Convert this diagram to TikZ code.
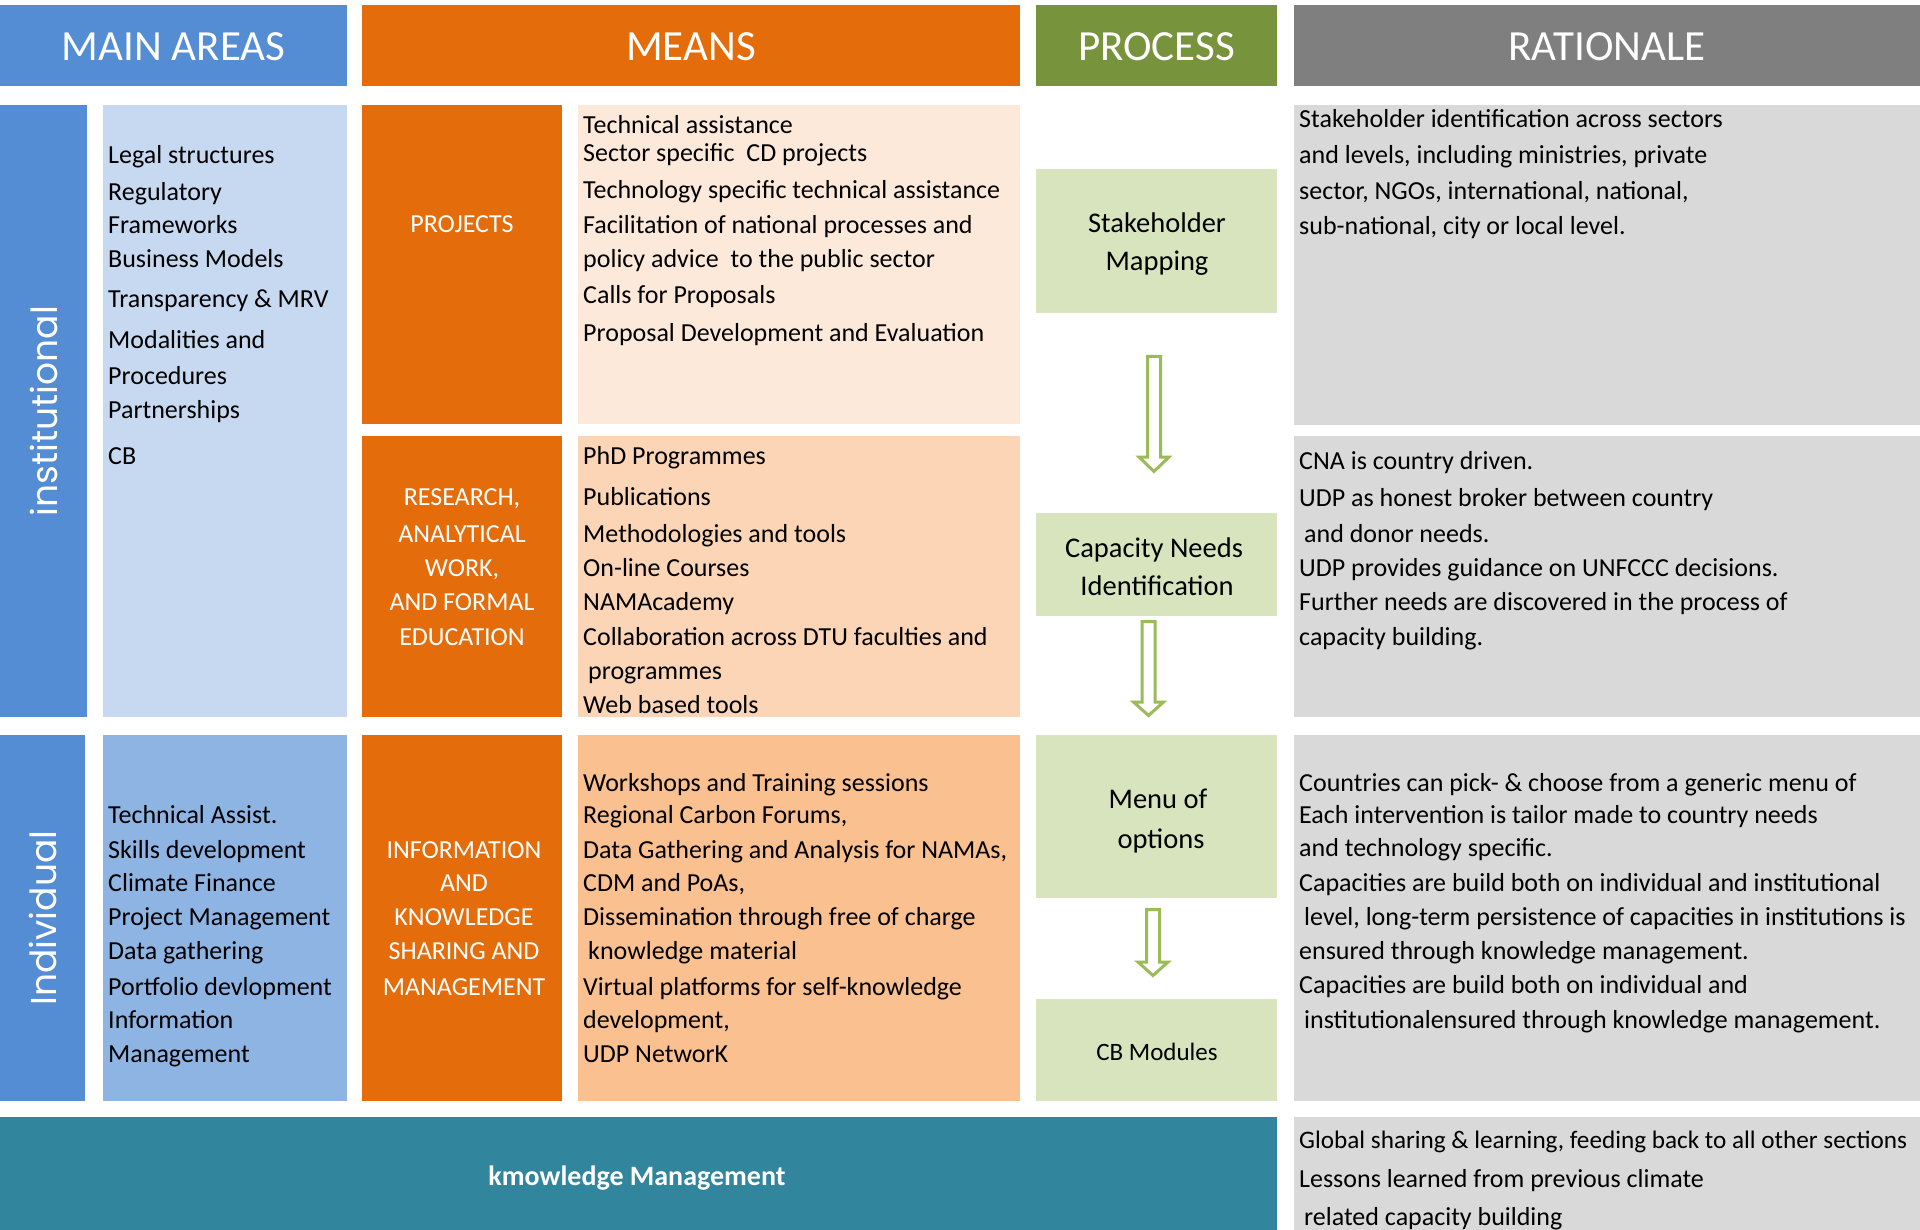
\documentclass[tikz,border=0pt]{standalone}
\usepackage{fontspec}
\setmainfont{Carlito}
\newfontfamily\vfont{Poppins}
\definecolor{hblue}{HTML}{548DD4}
\definecolor{horange}{HTML}{E46C0A}
\definecolor{hgreen}{HTML}{77933C}
\definecolor{hgray}{HTML}{7F7F7F}
\definecolor{lblue}{HTML}{C6D9F1}
\definecolor{mblue}{HTML}{8EB4E3}
\definecolor{peachA}{HTML}{FDE9D9}
\definecolor{peachB}{HTML}{FBD5B5}
\definecolor{peachC}{HTML}{FAC090}
\definecolor{lgreen}{HTML}{D7E4BD}
\definecolor{lgray}{HTML}{D9D9D9}
\definecolor{teal}{HTML}{31859C}
\definecolor{agreen}{HTML}{9BBB59}
\newcommand\mybox[6]{\node[box,fill=#6,minimum width={#4-#2},minimum height={#5-#3}] (#1) at (#2,#3) {};}
\begin{document}
\begin{tikzpicture}[x=1pt,y=-1pt,
  box/.style={anchor=north west,inner sep=0pt,outer sep=0pt,draw=none},
  hdr/.style={text=white,font=\fontsize{43}{48}\selectfont,inner sep=0pt,yshift=-1.5pt},
  txt/.style={anchor=base west,inner sep=0pt,yshift=-1.5pt,font=\fontsize{26}{30}\selectfont},
  ctxt/.style={anchor=base,inner sep=0pt,font=\fontsize{26}{30}\selectfont},
  olab/.style={anchor=base,inner sep=0pt,yshift=-1pt,text=white,font=\fontsize{26}{30}\selectfont},
  plab/.style={anchor=base,inner sep=0pt,yshift=-1pt,font=\fontsize{28.5}{32}\selectfont},
  vlab/.style={rotate=90,text=white,inner sep=0pt,font=\vfont\fontsize{36}{40}\selectfont},
  harrow/.style={draw=agreen,fill=white,line width=3pt,line join=miter}]
\useasboundingbox (0,0) rectangle (1920,1230);
\fill[white] (0,0) rectangle (1920,1230);
% headers
\mybox{hMain}{0}{5}{347}{86}{hblue}
\mybox{hMeans}{362}{5}{1020}{86}{horange}
\mybox{hProc}{1036}{5}{1277}{86}{hgreen}
\mybox{hRat}{1294}{5}{1920}{86}{hgray}
\node[hdr] (tMain) at (hMain.center) {MAIN AREAS};
\node[hdr] (tMeans) at (hMeans.center) {MEANS};
\node[hdr] (tProc) at (hProc.center) {PROCESS};
\node[hdr] (tRat) at (hRat.center) {RATIONALE};
% row 1
\mybox{barInst}{0}{105}{87}{717}{hblue}
\mybox{areaInst}{103}{105}{347}{717}{lblue}
\mybox{oProj}{362}{105}{562}{424}{horange}
\mybox{mProj}{578}{105}{1020}{424}{peachA}
\mybox{oRes}{362}{436}{562}{717}{horange}
\mybox{mRes}{578}{436}{1020}{717}{peachB}
\mybox{pStake}{1036}{169}{1277}{313}{lgreen}
\mybox{pCap}{1036}{513}{1277}{616}{lgreen}
\mybox{rA}{1294}{105}{1920}{425}{lgray}
\mybox{rB}{1294}{436}{1920}{717}{lgray}
% row 2
\mybox{barInd}{0}{735}{85}{1101}{hblue}
\mybox{areaInd}{103}{735}{347}{1101}{mblue}
\mybox{oInfo}{362}{735}{562}{1101}{horange}
\mybox{mInfo}{578}{735}{1020}{1101}{peachC}
\mybox{pMenu}{1036}{735}{1277}{898}{lgreen}
\mybox{pCB}{1036}{999}{1277}{1101}{lgreen}
\mybox{rC}{1294}{735}{1920}{1101}{lgray}
% bottom
\mybox{kmBar}{0}{1117}{1277}{1230}{teal}
\mybox{rD}{1294}{1117}{1920}{1230}{lgray}
% vertical labels
\node[vlab] (vInst) at (barInst.center) {institutional};
\node[vlab] (vInd) at (barInd.center) {Individual};
% main areas text
\foreach \yy/\tt [count=\i] in {162/Legal structures,199/Regulatory,232/Frameworks,266/Business Models,306/Transparency \& MRV,347/Modalities and,383/Procedures,417/Partnerships,463/CB}
  \node[txt] (ma\i) at (108,\yy) {\tt};
\foreach \yy/\tt [count=\i] in {822/Technical Assist.,857/Skills development,890/Climate Finance,924/Project Management,958/Data gathering,994/Portfolio devlopment,1027/Information,1061/Management}
  \node[txt] (mb\i) at (108,\yy) {\tt};
% orange labels
\node[olab] (lProj) at (462,232) {PROJECTS};
\foreach \yy/\tt [count=\i] in {504/{RESEARCH,},541/ANALYTICAL,575/{WORK,},609/AND FORMAL,644/EDUCATION}
  \node[olab] (lRes\i) at (462,\yy) {\tt};
\foreach \yy/\tt [count=\i] in {857/INFORMATION,890/AND,924/KNOWLEDGE,958/SHARING AND,994/MANAGEMENT}
  \node[olab] (lInf\i) at (464,\yy) {\tt};
% means text
\foreach \yy/\tt [count=\i] in {132/Technical assistance,160/Sector specific\ \ CD projects,197/Technology specific technical assistance,232/Facilitation of national processes and,266/policy advice\ \ to the public sector,302/Calls for Proposals,340/Proposal Development and Evaluation}
  \node[txt] (mp\i) at (583,\yy) {\tt};
\foreach \yy/\tt [count=\i] in {463/PhD Programmes,504/Publications,541/Methodologies and tools,575/On-line Courses,609/NAMAcademy,644/Collaboration across DTU faculties and,678/\hspace{5pt}programmes,712/Web based tools}
  \node[txt] (mr\i) at (583,\yy) {\tt};
\foreach \yy/\tt [count=\i] in {790/Workshops and Training sessions,822/{Regional Carbon Forums,},857/{Data Gathering and Analysis for NAMAs,},890/{CDM and PoAs,},924/Dissemination through free of charge,958/\hspace{5pt}knowledge material,994/Virtual platforms for self-knowledge,1027/{development,},1061/UDP NetworK}
  \node[txt] (mi\i) at (583,\yy) {\tt};
% process labels
\node[plab] (ps1) at (1157,232) {Stakeholder};
\node[plab] (ps2) at (1157,270) {Mapping};
\node[plab] (pc1) at (1154,556) {Capacity Needs};
\node[plab] (pc2) at (1157,594) {Identification};
\node[plab] (pm1) at (1158,807) {Menu of};
\node[plab] (pm2) at (1161,847) {options};
\node[ctxt,font=\fontsize{25}{30}\selectfont] (pcb) at (1157,1060) {CB Modules};
% hollow arrows
\coordinate (a1) at (1154,356.5);
\coordinate (a2) at (1148.5,621.5);
\coordinate (a3) at (1153,909.5);
\draw[harrow] (a1) ++(-6.5,0) -- ++(13,0) -- ++(0,100.5) -- ++(8.5,0) -- ++(-15,14.5) -- ++(-15,-14.5) -- ++(8.5,0) -- cycle;
\draw[harrow] (a2) ++(-6.5,0) -- ++(13,0) -- ++(0,80.5) -- ++(8.5,0) -- ++(-15,13.5) -- ++(-15,-13.5) -- ++(8.5,0) -- cycle;
\draw[harrow] (a3) ++(-6.5,0) -- ++(13,0) -- ++(0,52.5) -- ++(8.5,0) -- ++(-15,13.5) -- ++(-15,-13.5) -- ++(8.5,0) -- cycle;
% rationale text
\foreach \yy/\tt [count=\i] in {126/Stakeholder identification across sectors,162/{and levels, including ministries, private},198/{sector, NGOs, international, national,},233/{sub-national, city or local level.}}
  \node[txt] (ra\i) at (1299,\yy) {\tt};
\foreach \yy/\tt [count=\i] in {468/CNA is country driven.,505/UDP as honest broker between country,541/\hspace{5pt}and donor needs.,575/UDP provides guidance on UNFCCC decisions.,609/Further needs are discovered in the process of,644/capacity building.}
  \node[txt] (rb\i) at (1299,\yy) {\tt};
\foreach \yy/\tt [count=\i] in {790/Countries can pick- \& choose from a generic menu of,822/Each intervention is tailor made to country needs,855/and technology specific.,890/Capacities are build both on individual and institutional,924/{\hspace{5pt}level, long-term persistence of capacities in institutions is},958/ensured through knowledge management.,992/Capacities are build both on individual and,1027/\hspace{5pt}institutionalensured through knowledge management.}
  \node[txt] (rc\i) at (1299,\yy) {\tt};
\node[txt,font=\fontsize{25.2}{30}\selectfont] (rd1) at (1299,1147) {Global sharing \& learning, feeding back to all other sections};
\foreach \yy/\tt [count=\i from 2] in {1186/Lessons learned from previous climate,1224/\hspace{5pt}related capacity building}
  \node[txt] (rd\i) at (1299,\yy) {\tt};
% knowledge management
\node[text=white,inner sep=0pt,font=\bfseries\fontsize{28}{30}\selectfont] (km) at (637,1178) {kmowledge Management};
\end{tikzpicture}
\end{document}
